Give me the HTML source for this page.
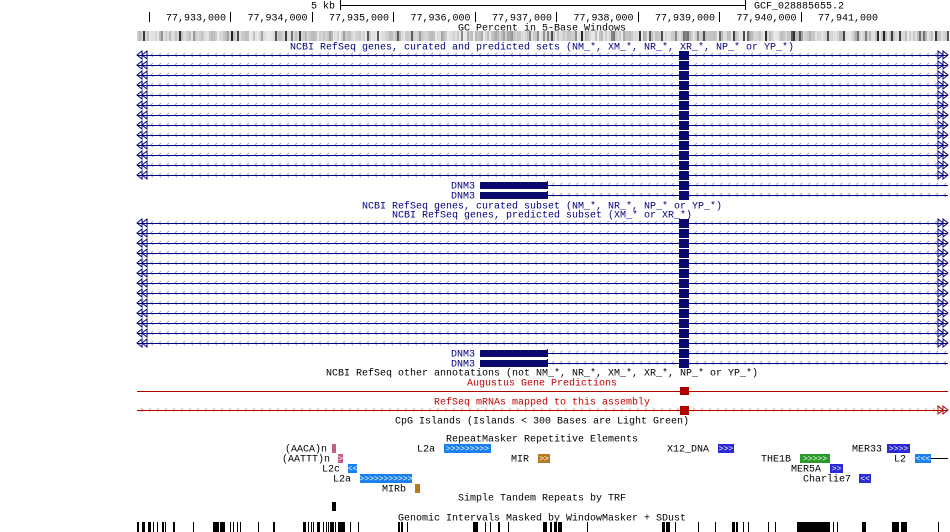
<!DOCTYPE html>
<html><head><meta charset="utf-8"><style>
html,body{margin:0;padding:0;background:#fff;width:950px;height:532px;overflow:hidden}
svg{display:block}
text{font-family:"Liberation Mono",monospace;font-size:10px}
</style></head><body>
<svg id="s" width="950" height="532" xmlns="http://www.w3.org/2000/svg">
<g id="g"></g>
</svg>
<script>
var g=document.getElementById('g'),h='';
function T(x,y,s,a,c){h+='<text x="'+x+'" y="'+(y+3.5)+'" text-anchor="'+(a||'start')+'" fill="'+(c||'#000')+'">'+s+'</text>';}
function R(x,y,w,hh,c){h+='<rect x="'+x+'" y="'+y+'" width="'+w+'" height="'+hh+'" fill="'+c+'"/>';}
function ticks(x0,x1,y,c,dir){var d='';for(var x=x0+4;x<x1-2;x+=8){if(dir<0)d+='M'+(x+2)+' '+(y-2)+'L'+x+' '+y+'L'+(x+2)+' '+(y+2);else d+='M'+x+' '+(y-2)+'L'+(x+2)+' '+y+'L'+x+' '+(y+2);}h+='<path d="'+d+'" stroke="'+c+'" stroke-width="1" fill="none"/>';}
// ruler
T(335,5,'5 kb','end');
R(340,5,405,1,'#000');R(340,0,1,10,'#000');R(745,0,1,10,'#000');
T(754,5,'GCF_028885655.2');
R(149,12,1,10,'#000');
var labs=['77,933,000','77,934,000','77,935,000','77,936,000','77,937,000','77,938,000','77,939,000','77,940,000','77,941,000'];
for(var i=0;i<9;i++){var px=230+i*81.5;T(px-4,17,labs[i],'end');if(i<8)R(Math.round(px),12,1,10,'#000');}
T(542,27,'GC Percent in 5-Base Windows','middle');
var seed=7;function rnd(){seed=(seed*9301+49297)%233280;return seed/233280;}
for(var x=137;x<948;x+=2){var v=rnd();var d=(x>620&&x<900)?0.35:0.15;var c=Math.round(235-(v<d?200*rnd():50*rnd()));R(x,31,2,10,'rgb('+c+','+c+','+c+')');}
T(542,46,'NCBI RefSeq genes, curated and predicted sets (NM_*, XM_*, NR_*, XR_*, NP_* or YP_*)','middle','#000080');
function gene(y){
 ticks(147,938,y,'#a0a0d8',-1);
 R(137,y,811,1,'#000080');
 h+='<path d="M142 '+(y-4)+' L137 '+y+' L142 '+(y+4)+' Z M147 '+(y-4)+' L142 '+y+' L147 '+(y+4)+' Z" fill="none" stroke="#000080"/>';
 h+='<path d="M938 '+(y-4)+' L943 '+y+' L938 '+(y+4)+' Z M943 '+(y-4)+' L948 '+y+' L943 '+(y+4)+' Z" fill="none" stroke="#000080"/>';
 R(679,y-4,10,9,'#0a0a6e');
}
function dnm(y){ticks(548,948,y,'#a0a0d8',-1);R(480,y,468,1,'#000080');R(480,y-3,67,7,'#0a0a6e');R(547,y-4,1,8,'#0a0a6e');R(679,y-4,10,9,'#0a0a6e');T(475,y,'DNM3','end','#000080');}
for(var k=0;k<13;k++)gene(55+k*10);
dnm(185);dnm(195);
T(542,205,'NCBI RefSeq genes, curated subset (NM_*, NR_*, NP_* or YP_*)','middle','#000080');
T(542,214,'NCBI RefSeq genes, predicted subset (XM_* or XR_*)','middle','#000080');
for(var k=0;k<13;k++)gene(223+k*10);
dnm(353);dnm(363);
T(542,372,'NCBI RefSeq other annotations (not NM_*, NR_*, XM_*, XR_*, NP_* or YP_*)','middle');
T(542,382,'Augustus Gene Predictions','middle','#c00000');
R(137,391,811,1,'#b00000');R(680,387,9,8,'#b00000');
T(542,401,'RefSeq mRNAs mapped to this assembly','middle','#c00000');
ticks(137,938,410,'#e0a0a0',1);R(137,410,811,1,'#b00000');R(680,406,9,9,'#b00000');
h+='<path d="M938 406 L943 410 L938 414 Z M943 406 L948 410 L943 414 Z" fill="none" stroke="#b00000"/>';
T(542,420,'CpG Islands (Islands &lt; 300 Bases are Light Green)','middle');
T(542,438,'RepeatMasker Repetitive Elements','middle');
function rep(lx,y,lab,bx,bw,c,gl){T(lx,y,lab,'end');R(bx,y-4,bw,9,c);if(gl)h+='<text x="'+(bx+bw/2)+'" y="'+(y+3)+'" text-anchor="middle" fill="#fff" style="font-size:8px">'+gl+'</text>';}
var LB='#1a80f0',DB='#2a2ad8',GR='#2a9a2a',BR='#b87820',PK='#c0608a';
rep(327,448,'(AACA)n',332,4,PK,'');
rep(330,458,'(AATTT)n',338,5,PK,'&gt;');
rep(340,468,'L2c',348,9,LB,'&lt;&lt;');
rep(351,478,'L2a',360,52,LB,'&gt;&gt;&gt;&gt;&gt;&gt;&gt;&gt;&gt;&gt;&gt;');
rep(406,488,'MIRb',415,5,BR,'');
rep(435,448,'L2a',444,47,LB,'&gt;&gt;&gt;&gt;&gt;&gt;&gt;&gt;&gt;');
rep(529,458,'MIR',538,12,BR,'&gt;&gt;');
rep(709,448,'X12_DNA',718,16,DB,'&gt;&gt;&gt;');
rep(882,448,'MER33',887,23,DB,'&gt;&gt;&gt;&gt;');
rep(791,458,'THE1B',800,30,GR,'&gt;&gt;&gt;&gt;&gt;');
rep(906,458,'L2',915,16,LB,'&lt;&lt;&lt;');R(931,458,17,1,'#000');
rep(821,468,'MER5A',830,13,DB,'&gt;&gt;');
rep(851,478,'Charlie7',859,12,DB,'&lt;&lt;');
T(542,497,'Simple Tandem Repeats by TRF','middle');
R(332,502,4,9,'#000');
T(542,517,'Genomic Intervals Masked by WindowMasker + SDust','middle');
var wm=[[137,2],[142,3],[148,3],[153,1],[157,1],[162,2],[165,1],[173,2],[193,1],[213,6],[220,5],[230,1],[233,1],[237,1],[240,1],[258,1],[273,2],[303,3],[308,1],[311,1],[313,1],[317,3],[323,1],[326,1],[328,1],[330,4],[335,1],[338,7],[350,1],[358,1],[398,2],[401,2],[407,1],[473,5],[485,1],[490,1],[498,2],[508,1],[543,4],[550,2],[554,3],[558,4],[587,1],[662,3],[666,4],[675,1],[698,1],[715,1],[732,3],[736,2],[743,1],[748,1],[768,1],[775,1],[797,33],[833,1],[837,1],[862,4],[892,7],[901,6],[938,1]];
for(var i=0;i<wm.length;i++)R(wm[i][0],522,wm[i][1],10,'#000');
g.innerHTML=h;
</script>
</body></html>
